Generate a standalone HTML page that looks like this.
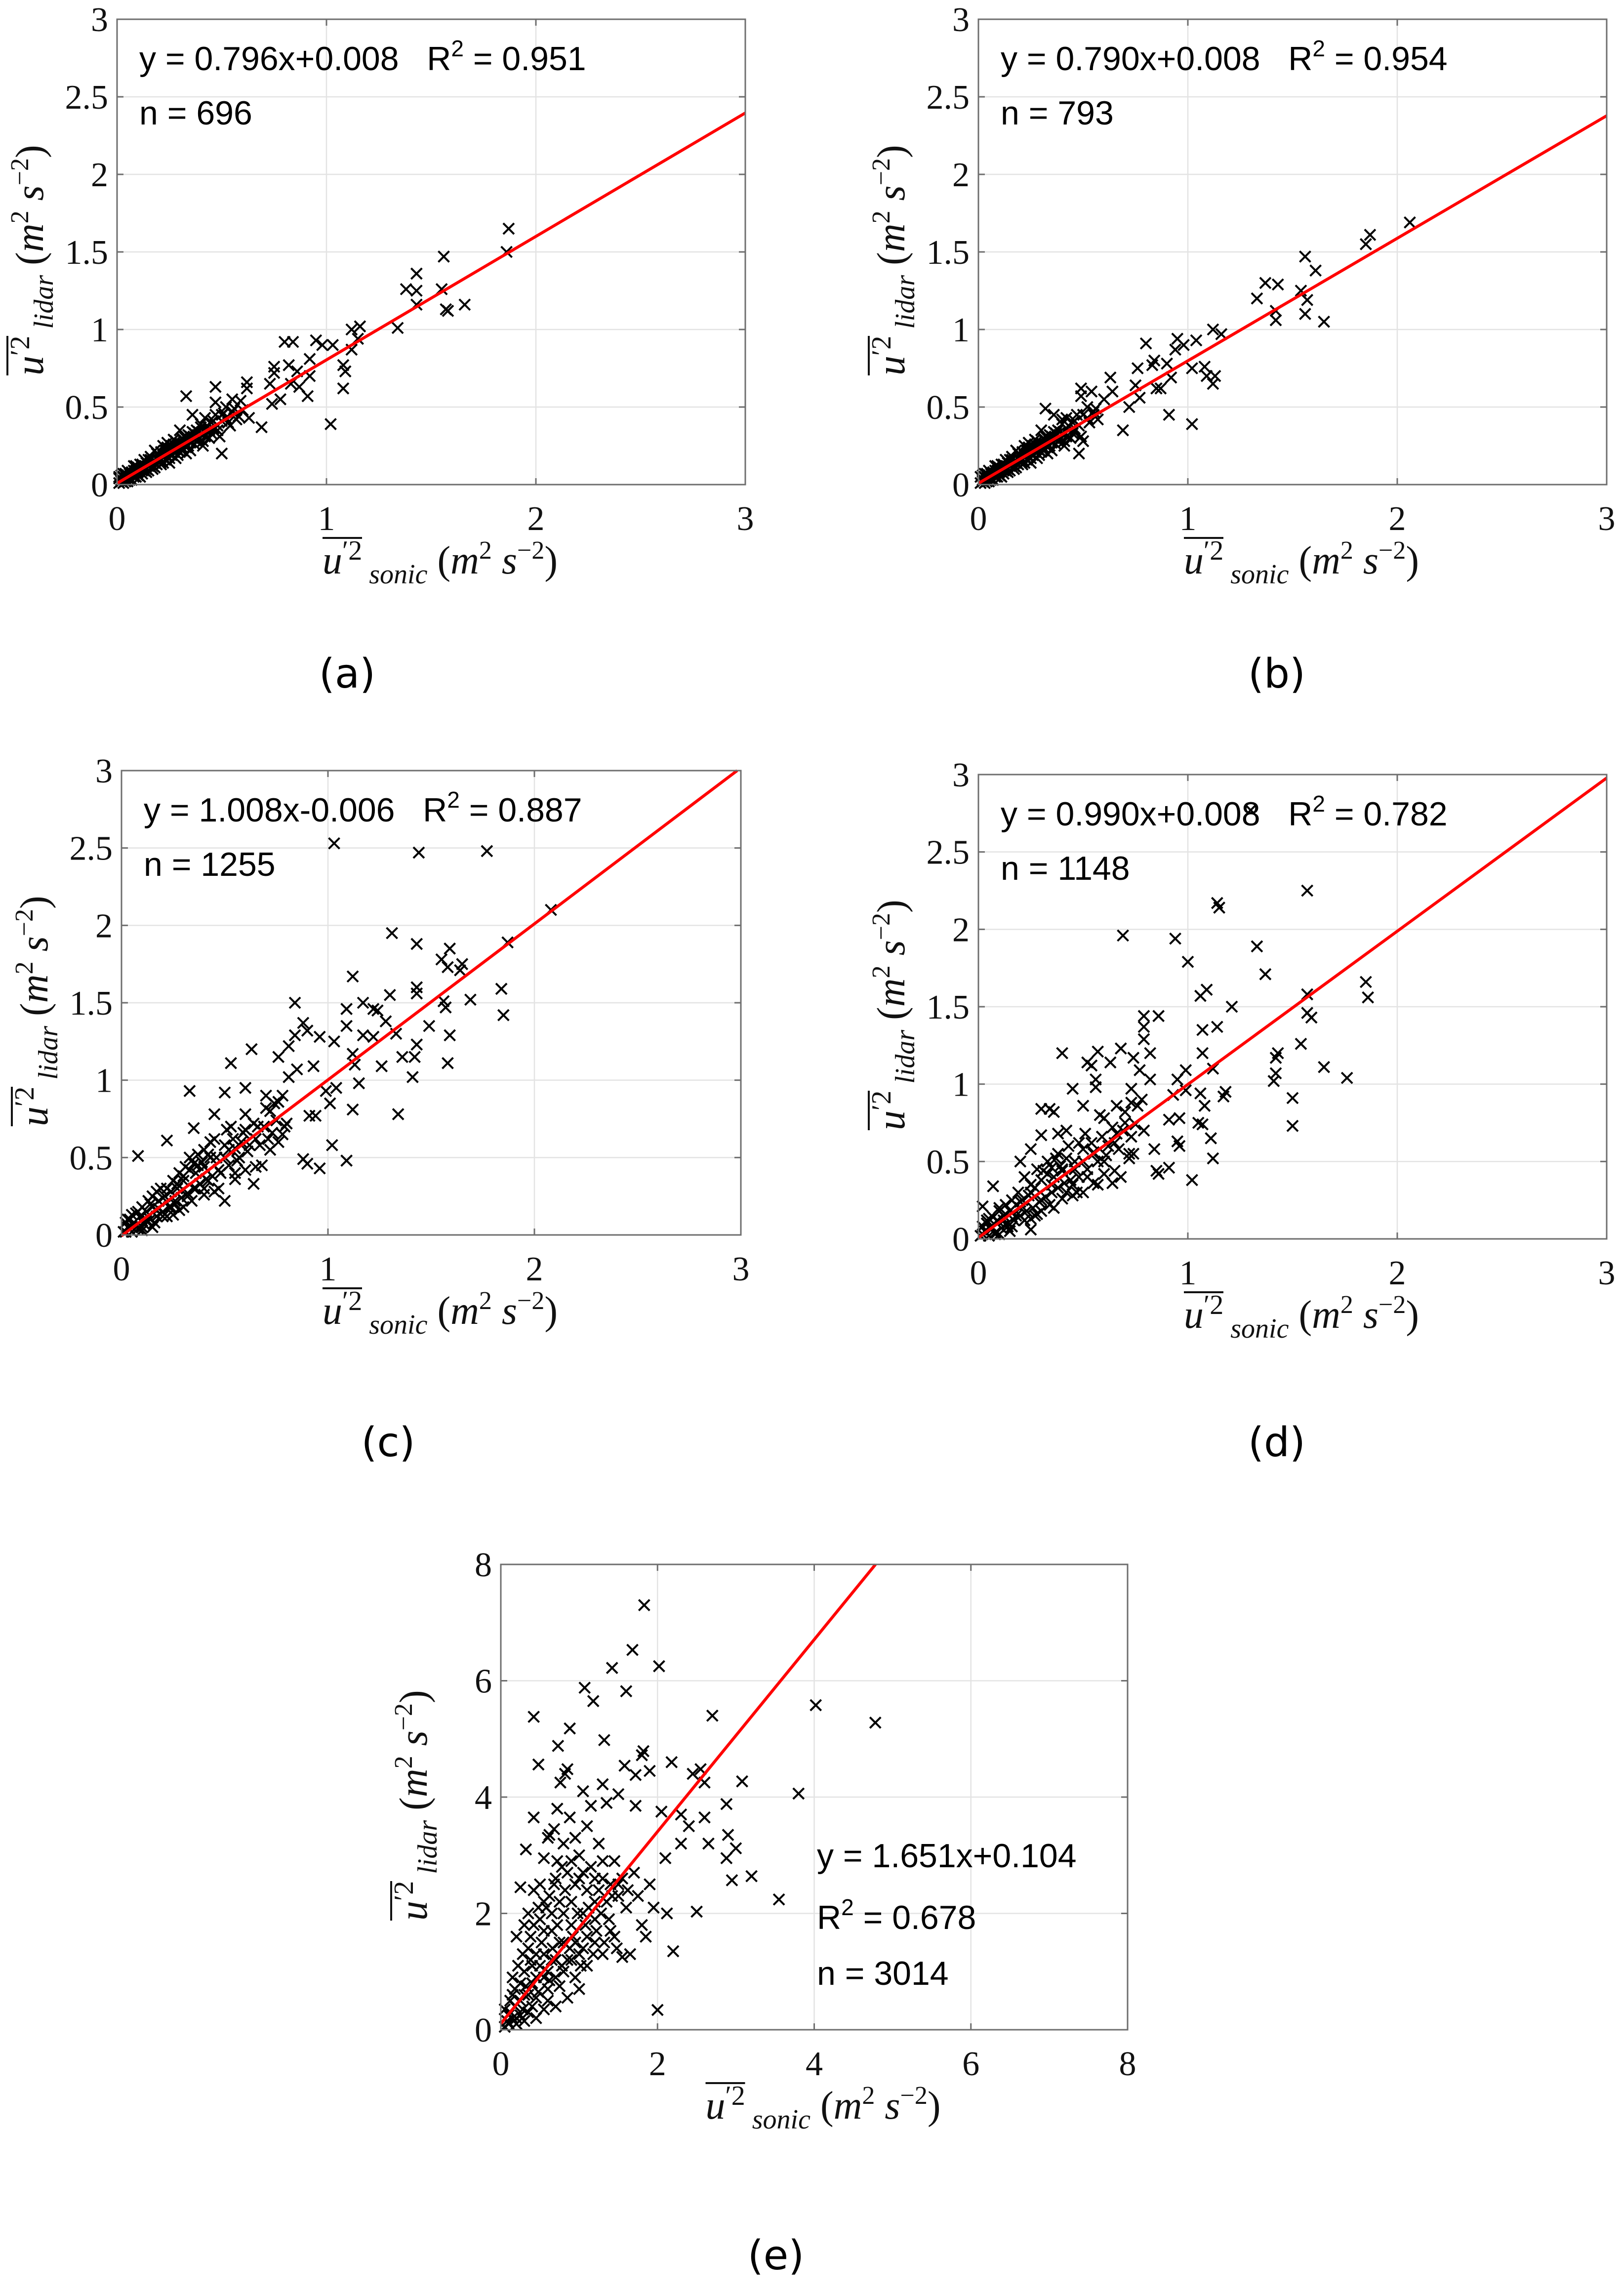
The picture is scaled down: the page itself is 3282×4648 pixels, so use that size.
<!DOCTYPE html>
<html><head><meta charset="utf-8">
<style>
html,body{margin:0;padding:0;background:#fff;}
svg{display:block;}
.tick{font-family:"Liberation Serif",serif;font-size:70px;fill:#111;}
.lab{font-family:"Liberation Serif",serif;font-style:italic;fill:#111;}
.ann{font-family:"Liberation Sans",sans-serif;font-size:68px;fill:#000;}
.plab{font-family:"DejaVu Sans","Liberation Sans",sans-serif;font-size:82px;fill:#000;}
</style></head>
<body>
<svg id="fig" width="3282" height="4648" viewBox="0 0 3282 4648" xmlns="http://www.w3.org/2000/svg"></svg>
<script>
// ---- data ----
const ticksSmall = [0, 1, 2, 3];
const yTicksSmall = [0, 0.5, 1, 1.5, 2, 2.5, 3];
const ticksLarge = [0, 2, 4, 6, 8];
const fitSlopes = [0.796, 0.790, 1.008, 0.990, 1.651];
const fitIntercepts = [0.008, 0.008, -0.006, 0.008, 0.104];
const annEq = ["y = 0.796x+0.008", "y = 0.790x+0.008", "y = 1.008x-0.006", "y = 0.990x+0.008", "y = 1.651x+0.104"];
const annR2 = ["0.951", "0.954", "0.887", "0.782", "0.678"];
const annN = ["696", "793", "1255", "1148", "3014"];
const panelLetters = ["(a)", "(b)", "(c)", "(d)", "(e)"];

const clusterSmall = [[0.01,0.01],[0.02,0.03],[0.03,0.01],[0.04,0.04],[0.05,0.06],[0.06,0.03],[0.07,0.08],[0.08,0.05],[0.09,0.09],[0.10,0.06],[0.11,0.10],[0.12,0.07],[0.13,0.12],[0.14,0.14],[0.15,0.09],[0.16,0.13],[0.17,0.15],[0.18,0.11],[0.19,0.17],[0.20,0.18],[0.21,0.13],[0.22,0.19],[0.23,0.16],[0.24,0.21],[0.25,0.17],[0.26,0.25],[0.27,0.21],[0.28,0.23],[0.29,0.19],[0.30,0.27],[0.31,0.22],[0.32,0.28],[0.33,0.24],[0.34,0.32],[0.35,0.27],[0.36,0.30],[0.37,0.26],[0.38,0.35],[0.39,0.29],[0.40,0.33],[0.42,0.31],[0.43,0.38],[0.44,0.30],[0.46,0.41],[0.48,0.38],[0.50,0.45],[0.53,0.40],[0.55,0.47],[0.01,0.05],[0.03,0.07],[0.05,0.09],[0.07,0.03],[0.09,0.12],[0.11,0.05],[0.13,0.09],[0.15,0.16],[0.17,0.10],[0.19,0.20],[0.21,0.16],[0.23,0.22],[0.25,0.14],[0.27,0.26],[0.29,0.22],[0.31,0.30],[0.33,0.20],[0.35,0.31],[0.02,0.06],[0.04,0.02],[0.06,0.07],[0.08,0.09],[0.10,0.11],[0.12,0.13],[0.14,0.08],[0.16,0.16],[0.18,0.14],[0.20,0.16],[0.22,0.14],[0.24,0.24],[0.26,0.19],[0.28,0.28],[0.30,0.21],[0.32,0.26],[0.34,0.25],[0.36,0.34],[0.38,0.28],[0.40,0.39],[0.41,0.25],[0.45,0.33],[0.47,0.45],[0.49,0.31],[0.52,0.50],[0.57,0.42]];

const ptsA = [[1.87,1.65],[1.86,1.50],[1.56,1.47],[1.43,1.36],[1.38,1.26],[1.43,1.25],[1.55,1.26],[1.43,1.16],[1.58,1.12],[1.57,1.13],[1.66,1.16],[1.34,1.01],[1.12,1.00],[1.16,1.02],[1.15,0.94],[1.12,0.87],[1.08,0.77],[1.09,0.73],[1.08,0.62],[1.02,0.39],[1.03,0.90],[0.98,0.90],[0.95,0.93],[0.84,0.92],[0.80,0.92],[0.92,0.81],[0.86,0.73],[0.92,0.70],[0.91,0.57],[0.87,0.63],[0.82,0.77],[0.83,0.65],[0.75,0.76],[0.75,0.72],[0.73,0.65],[0.78,0.55],[0.74,0.52],[0.69,0.37],[0.62,0.66],[0.62,0.62],[0.59,0.54],[0.55,0.55],[0.51,0.46],[0.47,0.63],[0.47,0.53],[0.50,0.41],[0.54,0.38],[0.63,0.43],[0.58,0.44],[0.33,0.57],[0.50,0.20],[0.44,0.35],[0.36,0.45],[0.40,0.37],[0.38,0.30],[0.30,0.35],[0.31,0.24],[0.27,0.29],[0.25,0.20],[0.22,0.25],[0.20,0.15],[0.18,0.22],[0.15,0.12],[0.13,0.16],[0.10,0.08],[0.08,0.12],[0.06,0.04],[0.04,0.07],[0.02,0.02],[0.03,0.05],[0.05,0.02],[0.09,0.05],[0.12,0.09],[0.16,0.18],[0.19,0.13],[0.23,0.19],[0.26,0.23],[0.28,0.17],[0.33,0.26],[0.35,0.22],[0.37,0.33],[0.41,0.28],[0.45,0.40],[0.48,0.35],[0.52,0.43],[0.56,0.49],[0.60,0.48],[0.42,0.43],[0.32,0.31],[0.24,0.27],[0.14,0.10],[0.07,0.06],[0.01,0.04],[0.11,0.13],[0.17,0.12],[0.21,0.21],[0.29,0.25],[0.34,0.29],[0.39,0.34],[0.46,0.36]].concat(clusterSmall);
const ptsB = [[2.06,1.69],[1.87,1.61],[1.85,1.55],[1.56,1.47],[1.61,1.38],[1.33,1.20],[1.37,1.30],[1.43,1.29],[1.54,1.25],[1.57,1.19],[1.42,1.12],[1.42,1.06],[1.56,1.10],[1.65,1.05],[1.16,0.97],[1.12,1.00],[1.04,0.93],[0.95,0.94],[0.98,0.90],[0.94,0.87],[0.80,0.91],[0.84,0.80],[0.90,0.78],[0.92,0.69],[0.91,0.45],[1.02,0.39],[1.02,0.75],[1.08,0.76],[1.09,0.70],[1.12,0.65],[1.13,0.70],[0.83,0.77],[0.85,0.62],[0.87,0.62],[0.76,0.75],[0.75,0.64],[0.77,0.56],[0.72,0.50],[0.69,0.35],[0.63,0.69],[0.64,0.60],[0.60,0.55],[0.49,0.62],[0.49,0.57],[0.54,0.60],[0.32,0.49],[0.50,0.28],[0.48,0.20],[0.40,0.42],[0.45,0.35],[0.36,0.45],[0.38,0.30],[0.30,0.35],[0.31,0.24],[0.27,0.29],[0.25,0.20],[0.22,0.25],[0.20,0.15],[0.18,0.22],[0.15,0.12],[0.13,0.16],[0.10,0.08],[0.08,0.12],[0.06,0.04],[0.04,0.07],[0.02,0.02],[0.03,0.05],[0.05,0.02],[0.09,0.05],[0.12,0.09],[0.16,0.18],[0.19,0.13],[0.23,0.19],[0.26,0.23],[0.28,0.17],[0.33,0.26],[0.35,0.22],[0.37,0.33],[0.41,0.28],[0.45,0.40],[0.52,0.43],[0.56,0.49],[0.42,0.43],[0.32,0.31],[0.24,0.27],[0.14,0.10],[0.07,0.06],[0.11,0.13],[0.17,0.12],[0.21,0.21],[0.29,0.25],[0.34,0.29],[0.39,0.34],[0.46,0.36],[0.55,0.45]].concat(clusterSmall);
const clusterMid = [[0.01,0.02],[0.03,0.05],[0.05,0.02],[0.06,0.08],[0.08,0.04],[0.09,0.12],[0.11,0.07],[0.12,0.15],[0.14,0.10],[0.15,0.18],[0.17,0.12],[0.18,0.22],[0.20,0.15],[0.21,0.25],[0.23,0.18],[0.24,0.28],[0.26,0.20],[0.27,0.33],[0.29,0.24],[0.30,0.38],[0.32,0.27],[0.33,0.42],[0.35,0.30],[0.36,0.40],[0.38,0.33],[0.39,0.47],[0.41,0.36],[0.42,0.52],[0.44,0.38],[0.46,0.50],[0.48,0.40],[0.50,0.58],[0.52,0.45],[0.54,0.62],[0.57,0.50],[0.59,0.66],[0.61,0.54],[0.64,0.72],[0.67,0.58],[0.70,0.82],[0.73,0.66],[0.76,0.86],[0.79,0.70],[0.02,0.08],[0.04,0.10],[0.07,0.14],[0.10,0.18],[0.13,0.22],[0.16,0.08],[0.19,0.30],[0.22,0.12],[0.25,0.35],[0.28,0.16],[0.31,0.44],[0.34,0.22],[0.37,0.52],[0.40,0.26],[0.43,0.60],[0.47,0.30],[0.51,0.68],[0.55,0.36],[0.60,0.78],[0.65,0.44],[0.69,0.70],[0.72,0.55],[0.78,0.90],[0.05,0.13],[0.10,0.03],[0.15,0.05],[0.20,0.24],[0.25,0.13],[0.30,0.18],[0.35,0.46],[0.40,0.44],[0.45,0.28],[0.50,0.50],[0.55,0.56],[0.60,0.42],[0.65,0.62],[0.75,0.74]];
const ptsC = [[1.03,2.53],[1.44,2.47],[1.77,2.48],[2.08,2.10],[1.31,1.95],[1.43,1.88],[1.59,1.85],[1.87,1.89],[1.55,1.78],[1.58,1.73],[1.65,1.75],[1.64,1.71],[1.12,1.67],[1.30,1.55],[1.43,1.60],[1.43,1.56],[1.84,1.59],[1.69,1.52],[1.85,1.42],[1.56,1.51],[1.57,1.47],[1.59,1.29],[1.58,1.11],[1.49,1.35],[1.43,1.23],[1.42,1.15],[1.41,1.02],[1.34,0.78],[1.36,1.15],[1.33,1.30],[1.28,1.38],[1.22,1.46],[1.24,1.45],[1.17,1.50],[1.09,1.46],[1.09,1.35],[1.17,1.29],[1.22,1.28],[1.26,1.09],[1.12,1.17],[1.13,1.10],[1.15,0.98],[1.12,0.81],[1.09,0.48],[1.02,0.58],[1.03,1.25],[0.96,1.28],[0.90,1.32],[0.88,1.37],[0.84,1.29],[0.81,1.22],[0.84,1.50],[0.76,1.15],[0.63,1.20],[0.53,1.11],[0.33,0.93],[0.08,0.51],[0.22,0.61],[0.88,0.49],[0.90,0.46],[0.96,0.43],[0.94,0.77],[0.91,0.77],[0.85,1.07],[0.81,1.02],[0.93,1.09],[0.99,0.93],[1.04,0.95],[1.01,0.85],[0.60,0.95],[0.50,0.92],[0.45,0.78],[0.35,0.69],[0.66,0.70],[0.70,0.90],[0.74,0.85],[0.78,0.65],[0.76,0.60],[0.71,0.62],[0.68,0.45],[0.64,0.33],[0.50,0.22],[0.55,0.40],[0.58,0.60],[0.43,0.50],[0.40,0.30],[0.37,0.45],[0.30,0.35],[0.28,0.40],[0.26,0.22],[0.22,0.30],[0.18,0.17],[0.15,0.25],[0.12,0.10],[0.08,0.15],[0.05,0.05],[0.03,0.10],[0.02,0.02],[0.10,0.05],[0.14,0.20],[0.20,0.12],[0.24,0.18],[0.32,0.25],[0.36,0.30],[0.42,0.35],[0.47,0.42],[0.52,0.55],[0.56,0.48],[0.62,0.58],[0.40,0.55],[0.33,0.50],[0.27,0.30],[0.17,0.28],[0.45,0.62],[0.53,0.70],[0.72,0.80],[0.80,0.72],[0.60,0.68]].concat(clusterMid);
const ptsD = [[1.57,2.25],[1.14,2.17],[1.15,2.14],[0.69,1.96],[0.94,1.94],[1.33,1.89],[1.00,1.79],[1.37,1.71],[1.85,1.66],[1.86,1.56],[1.57,1.58],[1.06,1.57],[1.09,1.61],[1.21,1.50],[0.79,1.44],[0.86,1.44],[1.57,1.46],[1.59,1.43],[0.79,1.37],[0.79,1.29],[1.07,1.35],[1.14,1.37],[1.54,1.26],[0.40,1.20],[0.57,1.21],[0.68,1.23],[0.74,1.17],[0.82,1.20],[1.07,1.20],[1.43,1.20],[1.42,1.17],[1.65,1.11],[1.76,1.04],[1.42,1.07],[1.41,1.02],[1.12,1.10],[0.99,1.09],[0.77,1.09],[0.82,1.03],[0.52,1.14],[0.54,1.12],[0.63,1.14],[0.45,0.97],[0.56,1.03],[0.56,0.98],[0.73,0.97],[0.95,1.03],[0.99,0.96],[0.93,0.93],[1.06,0.94],[1.17,0.92],[1.18,0.95],[1.50,0.91],[1.50,0.73],[1.08,0.86],[0.30,0.84],[0.34,0.84],[0.36,0.82],[0.50,0.86],[0.58,0.80],[0.66,0.86],[0.73,0.88],[0.91,0.77],[0.96,0.78],[1.05,0.75],[1.07,0.74],[1.11,0.65],[1.12,0.52],[1.02,0.38],[0.96,0.60],[0.95,0.63],[0.84,0.58],[0.85,0.44],[0.86,0.42],[0.91,0.46],[0.74,0.55],[0.72,0.52],[0.68,0.40],[0.64,0.36],[0.48,0.62],[0.42,0.70],[0.38,0.68],[0.30,0.67],[0.25,0.58],[0.20,0.50],[0.07,0.34],[0.02,0.21],[0.25,0.06],[0.40,0.45],[0.45,0.35],[0.55,0.55],[0.60,0.50],[0.50,0.30],[0.35,0.35],[0.30,0.25],[0.25,0.30],[0.20,0.20],[0.16,0.25],[0.12,0.12],[0.10,0.20],[0.06,0.06],[0.04,0.12],[0.02,0.03],[0.08,0.03],[0.14,0.08],[0.18,0.15],[0.22,0.40],[0.28,0.45],[0.33,0.50],[0.36,0.20],[0.42,0.30],[0.46,0.45],[0.52,0.40],[0.57,0.35],[0.62,0.60],[0.66,0.68],[0.70,0.75],[0.27,0.15],[0.38,0.55],[1.30,2.77]].concat(clusterMid);
const ptsE = [[1.83,7.3],[1.68,6.53],[1.42,6.22],[2.02,6.25],[1.07,5.88],[1.18,5.65],[1.6,5.82],[4.02,5.58],[4.78,5.28],[0.42,5.38],[0.88,5.18],[2.7,5.4],[1.32,4.98],[0.73,4.88],[1.82,4.79],[1.8,4.72],[0.48,4.56],[1.58,4.54],[2.18,4.6],[1.72,4.38],[1.9,4.45],[2.55,4.48],[2.6,4.25],[2.45,4.4],[0.85,4.48],[0.82,4.4],[0.76,4.25],[3.08,4.27],[3.8,4.06],[1.05,4.1],[1.3,4.22],[1.5,4.05],[1.15,3.85],[1.35,3.9],[0.42,3.65],[0.88,3.65],[0.72,3.8],[1.72,3.85],[2.05,3.75],[2.3,3.7],[2.4,3.5],[2.6,3.65],[2.88,3.88],[2.9,3.35],[2.65,3.2],[3.0,3.12],[2.88,2.95],[2.95,2.57],[3.2,2.64],[3.55,2.24],[2.5,2.03],[2.12,2.0],[2.2,1.35],[2.0,0.34],[1.85,1.6],[1.8,1.8],[1.55,1.25],[1.65,1.30],[0.32,3.10],[0.25,2.45],[0.55,2.95],[0.6,3.3],[0.8,3.2],[1.0,3.0],[1.25,3.2],[1.45,2.9],[1.7,2.7],[1.9,2.5],[2.1,2.95],[2.3,3.2],[0.2,1.6],[0.35,2.0],[0.5,2.5],[0.7,2.6],[0.9,2.2],[1.1,2.4],[1.3,2.6],[1.5,2.3],[1.6,2.1],[1.4,1.7],[1.2,1.5],[1.0,1.3],[0.8,1.0],[0.6,0.7],[0.4,0.4],[0.2,0.2],[0.1,0.1],[0.05,0.35],[0.15,0.6],[0.3,1.0],[0.45,1.3],[0.55,1.7],[0.65,2.0],[0.75,1.5],[0.9,1.8],[1.05,2.0],[1.2,1.9],[1.35,2.2],[0.4,0.8],[0.5,1.1],[0.6,0.5],[0.7,1.2],[0.8,1.5],[0.95,0.9],[1.1,1.1],[1.3,1.3],[1.45,1.6],[0.25,0.5],[0.35,0.3],[0.15,0.9],[0.28,1.3],[0.38,1.6],[0.48,2.1],[0.62,2.3],[0.72,2.9],[0.85,2.7],[1.0,2.6],[1.15,2.8],[0.05,0.05],[0.12,0.3],[0.2,0.1],[0.3,0.15],[0.45,0.2],[0.55,0.35],[0.7,0.4],[0.85,0.55],[1.0,0.7],[0.65,1.7],[0.8,2.0],[0.35,1.4],[0.5,1.9],[1.25,2.4],[1.4,2.5],[1.55,2.6],[1.75,2.3],[1.95,2.1],[0.95,3.3],[1.1,3.5],[0.62,3.35],[0.68,3.45],[0.25,0.8],[0.4,1.1],[0.55,1.3],[0.7,0.9],[0.9,1.2],[1.1,1.6],[0.3,0.6],[0.18,0.4],[0.1,0.25],[0.45,0.55],[0.6,1.0],[0.75,2.2],[0.95,2.5],[1.2,2.2],[0.08,0.15],[0.12,0.5],[0.18,0.7],[0.22,1.1],[0.28,0.35],[0.32,0.75],[0.38,1.2],[0.42,1.8],[0.48,0.65],[0.52,1.5],[0.58,2.1],[0.62,0.85],[0.66,1.4],[0.72,1.8],[0.78,1.1],[0.82,2.4],[0.88,1.4],[0.92,1.6],[0.98,2.0],[1.02,1.1],[1.08,1.8],[1.12,2.1],[1.18,1.3],[1.22,1.7],[1.28,2.0],[1.32,1.5],[1.38,1.9],[1.42,2.3],[1.48,1.4],[0.15,0.2],[0.25,0.25],[0.35,0.6],[0.45,0.9],[0.55,0.9],[0.65,1.2],[0.75,0.75],[0.85,1.2],[0.95,1.5],[1.05,1.4],[0.3,1.8],[0.42,2.4],[0.55,2.2],[0.68,2.5],[0.78,2.8],[0.9,2.9],[1.05,2.7],[1.2,2.6],[1.3,2.9],[1.5,2.5],[1.62,2.4]];

const svg = document.getElementById('fig');
const NS = 'http://www.w3.org/2000/svg';
function mk(tag, attrs, parent){
  const e = document.createElementNS(NS, tag);
  for (const k in attrs) e.setAttribute(k, attrs[k]);
  (parent||svg).appendChild(e);
  return e;
}

const panels = [
  {L:237,R:1509,T:39,B:981,max:3,xt:ticksSmall,yt:yTicksSmall,pts:ptsA,lab:[703,1392],ann:'top'},
  {L:1981,R:3253,T:39,B:981,max:3,xt:ticksSmall,yt:yTicksSmall,pts:ptsB,lab:[2585,1392],ann:'top'},
  {L:246,R:1500,T:1560,B:2500,max:3,xt:ticksSmall,yt:yTicksSmall,pts:ptsC,lab:[786,2948],ann:'top'},
  {L:1981,R:3253,T:1568,B:2508,max:3,xt:ticksSmall,yt:yTicksSmall,pts:ptsD,lab:[2585,2948],ann:'top'},
  {L:1014,R:2283,T:3167,B:4109,max:8,xt:ticksLarge,yt:ticksLarge,pts:ptsE,lab:[1571,4594],ann:'right'}
];

panels.forEach((p, i) => {
  const g = mk('g', {});
  
  
  const sx = v => p.L + (v / p.max) * (p.R - p.L);
  const sy = v => p.B - (v / p.max) * (p.B - p.T);
  p.xt.forEach(t => {
    const l = mk('line', {x1:sx(t),x2:sx(t),y1:p.T,y2:p.B,stroke:'#e3e3e3','stroke-width':2.5}, g);
    
    
  });
  p.yt.forEach(t => {
    const l = mk('line', {x1:p.L,x2:p.R,y1:sy(t),y2:sy(t),stroke:'#e3e3e3','stroke-width':2.5}, g);
    
    
  });
  const pg = mk('g', {stroke:'#000','stroke-width':4}, g);
  
  
  const s = 11;
  p.pts.forEach(([x, y]) => {
    const cx = sx(x), cy = sy(y);
    const m = mk('path', {d:`M${cx-s},${cy-s}L${cx+s},${cy+s}M${cx-s},${cy+s}L${cx+s},${cy-s}`, fill:'none'}, pg);
    
    
  });
  const a = fitSlopes[i], b = fitIntercepts[i];
  let x1 = p.max, y1 = a * x1 + b;
  if (y1 > p.max) { y1 = p.max; x1 = (p.max - b) / a; }
  const fl = mk('line', {x1:sx(0),y1:sy(b),x2:sx(x1),y2:sy(y1),stroke:'#ff0000','stroke-width':6}, g);
  
  
  const box = mk('rect', {x:p.L,y:p.T,width:p.R-p.L,height:p.B-p.T,fill:'none',stroke:'#6e6e6e','stroke-width':3}, g);
  
  
  p.xt.forEach(t => {
    mk('line', {x1:sx(t),x2:sx(t),y1:p.B,y2:p.B-13,stroke:'#6e6e6e','stroke-width':3}, g);
    mk('line', {x1:sx(t),x2:sx(t),y1:p.T,y2:p.T+13,stroke:'#6e6e6e','stroke-width':3}, g);
    const tx = mk('text', {x:sx(t), y:p.B+92, 'text-anchor':'middle', class:'tick'}, g);
    tx.textContent = String(t);
    
    
  });
  p.yt.forEach(t => {
    mk('line', {x1:p.L,x2:p.L+13,y1:sy(t),y2:sy(t),stroke:'#6e6e6e','stroke-width':3}, g);
    mk('line', {x1:p.R,x2:p.R-13,y1:sy(t),y2:sy(t),stroke:'#6e6e6e','stroke-width':3}, g);
    const ty = mk('text', {x:p.L-18, y:sy(t)+24, 'text-anchor':'end', class:'tick'}, g);
    ty.textContent = String(t);
    
    
  });
  const cx = (p.L + p.R) / 2;
  const xt = mk('g', {transform:`translate(${cx - 220},${p.B + 180})`}, g);
  
  
  mk('line', {x1:0,x2:80,y1:-72,y2:-72,stroke:'#111','stroke-width':4}, xt);
  const xtt = mk('text', {x:0, y:0, class:'lab', 'font-size':80}, xt);
  xtt.innerHTML = 'u<tspan font-style="normal" dy="-28" font-size="56">′2</tspan><tspan dy="48" font-size="56"> sonic</tspan><tspan dy="-20" font-style="normal"> (</tspan>m<tspan dy="-30" font-size="52" font-style="normal">2</tspan><tspan dy="30"> s</tspan><tspan dy="-30" font-size="52" font-style="normal">−2</tspan><tspan dy="30" font-style="normal">)</tspan>';
  const cy = (p.T + p.B) / 2;
  const yx = p.L - 150;
  const yt = mk('g', {transform:`translate(${yx},${cy + 250}) rotate(-90)`}, g);
  
  
  mk('line', {x1:0,x2:80,y1:-72,y2:-72,stroke:'#111','stroke-width':4}, yt);
  const ytt = mk('text', {x:0, y:0, class:'lab', 'font-size':80}, yt);
  ytt.innerHTML = 'u<tspan font-style="normal" dy="-28" font-size="56">′2</tspan><tspan dy="48" font-size="56"> lidar</tspan><tspan dy="-20" font-style="normal">  (</tspan>m<tspan dy="-30" font-size="52" font-style="normal">2</tspan><tspan dy="30"> s</tspan><tspan dy="-30" font-size="52" font-style="normal">−2</tspan><tspan dy="30" font-style="normal">)</tspan>';
  if (p.ann === 'top') {
    const e1 = mk('text', {x:p.L+45, y:p.T+103, class:'ann'}, g);
    e1.innerHTML = annEq[i] + '\u00a0\u00a0\u00a0R<tspan dy="-28" font-size="46">2</tspan><tspan dy="28"> = ' + annR2[i] + '</tspan>';
    
    
    const e2 = mk('text', {x:p.L+45, y:p.T+213, class:'ann'}, g);
    e2.textContent = 'n = ' + annN[i];
    
    
  } else {
    const e1 = mk('text', {x:1654, y:3780, class:'ann'}, g);
    e1.textContent = annEq[i];
    
    
    const e3 = mk('text', {x:1654, y:3905, class:'ann'}, g);
    e3.innerHTML = 'R<tspan dy="-28" font-size="46">2</tspan><tspan dy="28"> = ' + annR2[i] + '</tspan>';
    
    
    const e2 = mk('text', {x:1654, y:4018, class:'ann'}, g);
    e2.textContent = 'n = ' + annN[i];
    
    
  }
  const pl = mk('text', {x:p.lab[0], y:p.lab[1], 'text-anchor':'middle', class:'plab'}, g);
  pl.textContent = panelLetters[i];
  
  
});
</script>
</body></html>
